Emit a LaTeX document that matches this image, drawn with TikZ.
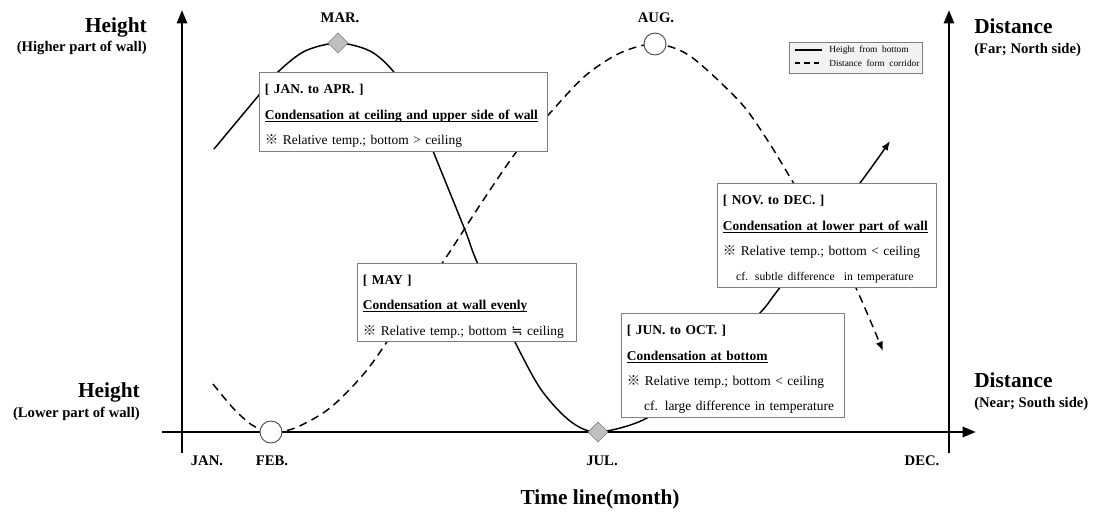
\documentclass[tikz,border=0pt]{standalone}
\usepackage{fontspec}
\setmainfont{Liberation Serif}
\newfontfamily\cjk{Noto Sans CJK JP}
\newfontfamily\dvsym{DejaVu Sans}
\usepackage{xcolor}
\usepackage{tikz}
\usetikzlibrary{arrows.meta,positioning,shapes.geometric}
\definecolor{cdFrame}{HTML}{7F7F7F}
\definecolor{cdDiamond}{HTML}{BFBFBF}
\definecolor{cdLegend}{HTML}{F2F2F2}
\newcommand{\refmark}{{\cjk ※}}
\newcommand{\nearlyeq}{{\dvsym ≒}}
\newcommand{\boxhead}[1]{\mbox{\setbox0=\hbox{\textbf{#1}}\rlap{\rule[-1.8pt]{\wd0}{0.6pt}}\box0}}
\tikzset{
  axis line/.style={line width=2pt,-{Triangle[length=10pt,width=7.5pt]}},
  height curve/.style={line width=1.1pt},
  distance curve/.style={line width=1.1pt,dash pattern=on 6pt off 4pt},
  curve tip/.style={-{Latex[length=7pt,width=5.5pt]}},
  info box/.style={draw=cdFrame,line width=0.8pt,fill=white,anchor=north west,align=left,
    inner xsep=4pt,inner ysep=0pt,font=\fontsize{10.1}{19}\selectfont,
    execute at begin node={\rule{0pt}{13pt}}},
  legend box/.style={draw=cdFrame,line width=0.8pt,fill=cdLegend,anchor=north west,inner sep=0pt},
  legend text/.style={font=\fontsize{7}{8}\selectfont,anchor=base west,inner sep=0pt},
  month label/.style={font=\fontsize{11}{13}\selectfont\bfseries,anchor=base,inner sep=0pt},
  side title/.style={font=\fontsize{16}{18}\selectfont\bfseries,inner sep=0pt},
  side note/.style={font=\fontsize{11}{13}\selectfont\bfseries,inner sep=0pt},
  peak mark/.style={diamond,draw=cdFrame,fill=cdDiamond,minimum size=15pt,inner sep=0pt},
  ring mark/.style={circle,draw=black!70,fill=white,line width=0.7pt,minimum size=16.5pt,inner sep=0pt}
}

\begin{document}
\begin{tikzpicture}[x=0.75pt,y=-0.75pt]
\useasboundingbox (0,0) rectangle (1100,511);

% axes
\coordinate (left low) at (182,453);
\coordinate (left top) at (182,10);
\coordinate (time start) at (162,432);
\coordinate (time end) at (976,432);
\coordinate (right low) at (949,453);
\coordinate (right top) at (949,10);
\draw[axis line] (left low) -- (left top);
\draw[axis line] (right low) -- (right top);
\draw[axis line] (time start) -- (time end);

% side titles
\node[side title,anchor=base east] (h high) at (147,32) {Height};
\node[side note,anchor=base east] (h high note) at (147,51) {(Higher part of wall)};
\node[side title,anchor=base east] (h low) at (140,397) {Height};
\node[side note,anchor=base east] (h low note) at (140,417) {(Lower part of wall)};
\node[side title,anchor=base west] (d far) at (974,33) {Distance};
\node[side note,anchor=base west] (d far note) at (974,53) {(Far; North side)};
\node[side title,anchor=base west] (d near) at (974,387) {Distance};
\node[side note,anchor=base west] (d near note) at (974,407) {(Near; South side)};

% months
\node[month label] (jan) at (207,465) {JAN.};
\node[month label] (feb label) at (272,465) {FEB.};
\node[month label] (jul label) at (602,465) {JUL.};
\node[month label] (dec) at (922,465) {DEC.};
\node[side title,anchor=base] (timeline) at (600,504) {Time line(month)};

% curves
\draw[height curve,curve tip] plot[smooth] coordinates {(214,149) (259,95) (279,71) (305,51) (338,43) (370,51) (393,71) (415,106) (433,151) (465,230) (477,262) (510,332) (540,388) (570,421) (598,432) (647,418) (700,376) (760,313) (778,290) (860,183) (890,141)};
\draw[distance curve,curve tip] plot[smooth] coordinates {(213,384) (233,408) (252,425) (271,432) (295,428) (330,408) (367,370) (405,315) (443,262) (480,205) (517,151) (550,113) (585,76) (620,53) (655,44) (690,56) (740,102) (768,141) (796,187) (830,240) (856,288) (883,351)};

% markers
\node[ring mark] (feb) at (271,432) {};
\node[peak mark] (mar) at (338,43) {};
\node[peak mark] (jul) at (598,432) {};
\node[ring mark] (aug) at (655,44) {};
\node[month label] (mar label) at (340,22) {MAR.};
\node[month label] (aug label) at (656,22) {AUG.};

% legend
\node[legend box,minimum width=99.75pt,minimum height=23.25pt] (legend) at (789,42) {};
\coordinate (solid a) at (795,50);
\coordinate (solid b) at (822,50);
\coordinate (dash a) at (795,63);
\coordinate (dash b) at (822,63);
\draw[line width=1pt] (solid a) -- (solid b);
\draw[line width=1pt,dash pattern=on 4pt off 3pt] (dash a) -- (dash b);
\node[legend text] (legend h) at (829,52) {Height\ \ from\ \ bottom};
\node[legend text] (legend d) at (829,66) {Distance\ \ form\ \ corridor};

% condensation boxes
\node[info box,text width=208pt,minimum height=59.25pt] (jan apr) at (259,72)
  {\textbf{[ JAN. to APR. ]}\\\boxhead{Condensation at ceiling and upper side of wall}\\\mbox{\refmark{} Relative temp.; bottom > ceiling}};
\node[info box,text width=156.25pt,minimum height=58.5pt] (may) at (357,263)
  {\textbf{[ MAY ]}\\\boxhead{Condensation at wall evenly}\\\mbox{\refmark{} Relative temp.; bottom \nearlyeq{} ceiling}};
\node[info box,text width=159.25pt,minimum height=78pt] (jun oct) at (621,313)
  {\textbf{[ JUN. to OCT. ]}\\\boxhead{Condensation at bottom}\\\mbox{\refmark{} Relative temp.; bottom < ceiling}\\\mbox{\hspace*{13pt}cf. large difference in temperature}};
\node[info box,text width=156.25pt,minimum height=78pt] (nov dec) at (717,183)
  {\textbf{[ NOV. to DEC. ]}\\\boxhead{Condensation at lower part of wall}\\\mbox{\refmark{} Relative temp.; bottom < ceiling}\\\mbox{\fontsize{8.8}{19}\selectfont\hspace*{10pt}cf. subtle difference\ \ in temperature}};
\end{tikzpicture}
\end{document}
